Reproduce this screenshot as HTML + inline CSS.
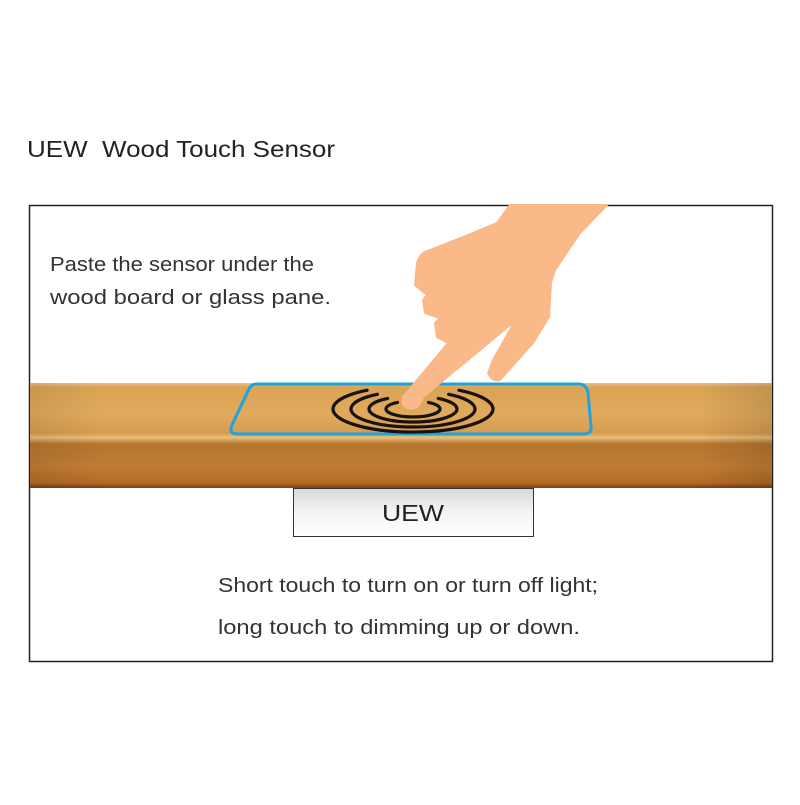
<!DOCTYPE html>
<html><head><style>
body{margin:0;background:#fff;width:800px;height:800px;overflow:hidden;font-family:"Liberation Sans",sans-serif;}
</style></head><body>
<svg width="800" height="800" viewBox="0 0 800 800" xmlns="http://www.w3.org/2000/svg">
<defs>
<linearGradient id="w" x1="0" y1="0" x2="0" y2="1">
<stop offset="0" stop-color="#e7c08a"/>
<stop offset="0.04" stop-color="#dba454"/>
<stop offset="0.3" stop-color="#dfaa5e"/>
<stop offset="0.48" stop-color="#d79c4e"/>
<stop offset="0.52" stop-color="#e9c07a"/>
<stop offset="0.58" stop-color="#b57530"/>
<stop offset="0.8" stop-color="#c27d34"/>
<stop offset="0.95" stop-color="#b46a25"/>
<stop offset="1" stop-color="#7a3e12"/>
</linearGradient>
<linearGradient id="ws" x1="0" y1="0" x2="1" y2="0">
<stop offset="0" stop-color="#000" stop-opacity="0.08"/>
<stop offset="0.1" stop-color="#000" stop-opacity="0"/>
<stop offset="0.9" stop-color="#000" stop-opacity="0"/>
<stop offset="1" stop-color="#000" stop-opacity="0.12"/>
</linearGradient>
<linearGradient id="m" x1="0" y1="0" x2="0" y2="1">
<stop offset="0" stop-color="#d8d8d8"/>
<stop offset="0.5" stop-color="#f4f4f4"/>
<stop offset="1" stop-color="#ffffff"/>
</linearGradient>
</defs>
<text x="27" y="157" font-size="23" fill="#222" textLength="308" lengthAdjust="spacingAndGlyphs">UEW&#160;&#160;Wood Touch Sensor</text>
<rect x="29.5" y="205.5" width="743" height="456" fill="none" stroke="#222" stroke-width="1.5"/>
<text x="50" y="271" font-size="20" fill="#333" textLength="264" lengthAdjust="spacingAndGlyphs">Paste the sensor under the</text>
<text x="50" y="304" font-size="20" fill="#333" textLength="281" lengthAdjust="spacingAndGlyphs">wood board or glass pane.</text>
<rect x="30" y="383" width="742" height="105" fill="url(#w)"/>
<rect x="30" y="383" width="742" height="105" fill="url(#ws)"/>
<rect x="293.5" y="488.5" width="240" height="48" fill="url(#m)" stroke="#333" stroke-width="1"/>
<text x="413" y="521" font-size="23" fill="#222" text-anchor="middle" textLength="62" lengthAdjust="spacingAndGlyphs">UEW</text>
<path d="M256,384 L578,384 Q586,384 588,392 L591,426 Q592,434 584,434 L238,434 Q228,434 232,425 L248,391 Q251,384 256,384 Z" fill="none" stroke="#1fa3df" stroke-width="3"/>
<g fill="none" stroke="#1a1210" stroke-width="3.2" stroke-linecap="round">
<path d="M397.5,402.4 A27,8 0 1 0 428.5,402.4"/>
<path d="M387.7,398.4 A44,13 0 1 0 438.3,398.4"/>
<path d="M377.4,394.3 A62,18 0 1 0 448.6,394.3"/>
<path d="M367.1,390.2 A80,23 0 1 0 458.9,390.2"/>
</g>
<path d="M510,205 L607,205 L580,233 L555,270 L551,283 L549,317 L533,343 L500,380 Q492,382 488,373 L493,360 L515,321 L423,397 Q418,412 407,408 Q400,404 403,397 L448,343 L437,337 L435,323 L440,318 L425,313 L423,300 L427,295 L415,285 L417,263 Q420,252 430,250 L463,237 L497,223 Z" fill="#fbb888" stroke="#fbb888" stroke-width="2" stroke-linejoin="round"/>
<text x="218" y="592" font-size="20" fill="#333" textLength="380" lengthAdjust="spacingAndGlyphs">Short touch to turn on or turn off light;</text>
<text x="218" y="634" font-size="20" fill="#333" textLength="362" lengthAdjust="spacingAndGlyphs">long touch to dimming up or down.</text>
</svg>
</body></html>
